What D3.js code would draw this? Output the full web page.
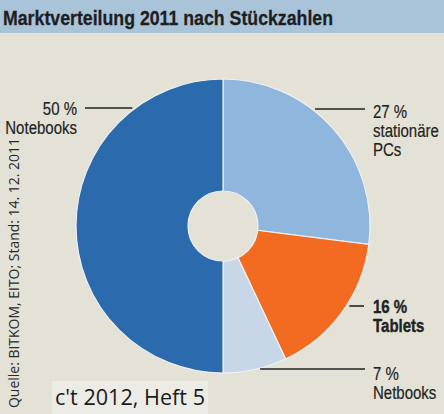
<!DOCTYPE html>
<html><head><meta charset="utf-8">
<script src="https://cdn.jsdelivr.net/npm/d3@7/dist/d3.min.js"></script>
<style>
html,body{margin:0;padding:0;background:#e4e2d7;}
svg{display:block;}
.cond{font-family:"Liberation Sans","Arial",sans-serif;}
</style></head>
<body><svg id="c" width="444" height="414"></svg>
<script>
const categories = ["stationäre PCs", "Tablets", "Netbooks", "Notebooks"];
const values = [27, 16, 7, 50];
const valueLabels = ["27 %", "16 %", "7 %", "50 %"];
const labelLines = [["stationäre", "PCs"], ["Tablets"], ["Netbooks"], ["Notebooks"]];
const colors = ["#8fb6dd", "#f36b21", "#c7d7e8", "#2b6bad"];

const W = 444, H = 414;
const svg = d3.select("#c");
svg.append("rect").attr("width", W).attr("height", H).attr("fill", "#e4e2d7");
svg.append("rect").attr("width", W).attr("height", 33).attr("fill", "#a9c4d9");
svg.append("text").attr("class","cond").attr("x", 3).attr("y", 25)
  .attr("font-size", 21).attr("font-weight", "bold").attr("fill", "#1e1e22")
  .attr("stroke", "#1e1e22").attr("stroke-width", 0.3)
  .attr("textLength", 330).attr("lengthAdjust", "spacingAndGlyphs")
  .text("Marktverteilung 2011 nach Stückzahlen");

const cx = 223, cy = 226, R = 147, r0 = 35;
const pie = d3.pie().sort(null).value(d => d)(values);
const arc = d3.arc().innerRadius(0).outerRadius(R);
const g = svg.append("g").attr("transform", `translate(${cx},${cy})`);
g.selectAll("path").data(pie).join("path")
  .attr("d", arc).attr("fill", (d, i) => colors[i])
  .attr("stroke", "#eef0f2").attr("stroke-width", 1.2);
g.append("circle").attr("r", r0).attr("fill", "#e4e2d7")
  .attr("stroke", "#eef0f2").attr("stroke-width", 1.2);

// label layout: side, line y offset from centre, line outer x, text anchor x, first baseline
const layout = [
  {side: 1, ly: -117, lx: 365, tx: 373, ty: 118},
  {side: 1, ly: 80, lx: 364, tx: 373, ty: 313},
  {side: 1, ly: 143, lx: 365, tx: 373, ty: 380},
  {side: -1, ly: -118, lx: 85, tx: 77, ty: 115}
];
const lh = 19, sx = 0.79;
layout.forEach((L, i) => {
  const dx = Math.sqrt(R * R - L.ly * L.ly);
  const x0 = cx + L.side * (dx + 3);
  svg.append("line").attr("x1", x0).attr("x2", L.lx)
    .attr("y1", cy + L.ly).attr("y2", cy + L.ly)
    .attr("stroke", "#222").attr("stroke-width", 1.6);
  const bold = categories[i] === "Tablets";
  const t = svg.append("text").attr("class", "cond")
    .attr("transform", `translate(${L.tx},${L.ty}) scale(${sx},1)`)
    .attr("font-size", 19).attr("fill", "#222")
    .attr("stroke", "#222").attr("stroke-width", bold ? 0.4 : 0.2)
    .attr("font-weight", bold ? "bold" : "normal")
    .attr("text-anchor", L.side > 0 ? "start" : "end");
  [valueLabels[i], ...labelLines[i]].forEach((s, k) => {
    t.append("tspan").attr("x", 0).attr("y", k * lh).text(s);
  });
});

svg.append("text").attr("transform", "translate(19,408) rotate(-90)")
  .attr("font-family", "'Open Sans','DejaVu Sans',sans-serif")
  .attr("font-size", 14).attr("fill", "#2a2a2a")
  .attr("textLength", 270).attr("lengthAdjust", "spacingAndGlyphs")
  .text("Quelle: BITKOM, EITO; Stand: 14. 12. 2011");

svg.append("rect").attr("x", 52).attr("y", 381).attr("width", 156).attr("height", 33).attr("fill", "#ecebe6");
svg.append("text").attr("x", 55).attr("y", 405)
  .attr("font-family", "'Open Sans','DejaVu Sans',sans-serif")
  .attr("font-size", 21).attr("fill", "#1a1a1a")
  .attr("textLength", 150).attr("lengthAdjust", "spacingAndGlyphs")
  .text("c't 2012, Heft 5");
</script></body></html>
